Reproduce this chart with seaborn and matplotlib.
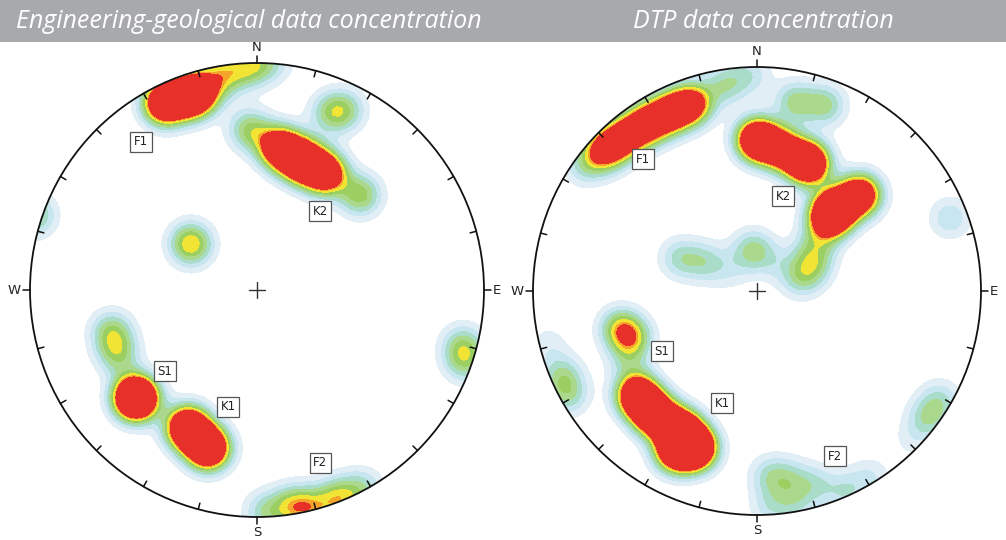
import numpy as np
import pandas as pd
import matplotlib
matplotlib.use("Agg")
import matplotlib.pyplot as plt
import seaborn as sns
from matplotlib.patches import Circle, Rectangle

# ---------------- data (pole positions in the equal-area net, unit circle) ----------------
titles = ["Engineering-geological data concentration", "DTP data concentration"]

# Engineering-geological net: pole concentrations (u = east, v = north) and weights
eg_u = [-0.405, -0.286, -0.229, -0.141, -0.031, 0.066,
        0.322, 0.388,
        -0.031, 0.101, 0.198, 0.300, 0.454,
        -0.291,
        -0.980,
        0.907, 0.916,
        -0.639, -0.612, -0.533,
        -0.304, -0.216,
        0.035, 0.154, 0.242, 0.357, 0.463]
eg_v = [0.824, 0.855, 0.890, 0.952, 0.987, 1.004,
        0.780, 0.793,
        0.705, 0.626, 0.568, 0.515, 0.419,
        0.203,
        0.330,
        -0.242, -0.317,
        -0.185, -0.286, -0.476,
        -0.608, -0.696,
        -0.978, -0.952, -0.960, -0.921, -0.881]
eg_w = [14, 14, 4, 4.8, 5, 2.5,
        3.6, 3.6,
        5, 12, 14, 12, 5.5,
        7,
        4.5,
        3.8, 3.8,
        4.8, 4.4, 19,
        15, 15,
        3.5, 5, 4.5, 5.5, 3.5]

# DTP net
dtp_u = [-0.679, -0.589, -0.491, -0.388, -0.290, -0.143, -0.031, -0.768,
         0.170, 0.304,
         0.004, 0.116, 0.228, 0.348, 0.460, 0.308, 0.259, 0.246, 0.192,
         -0.344, -0.232, -0.018, -0.121, 0.080,
         -0.612, -0.558, -0.576,
         -0.531, -0.455, -0.344, -0.277, -0.366,
         -0.871, -0.844, -0.933,
         0.058, 0.147, 0.259, 0.058, 0.170, 0.393, 0.504, 0.763, 0.817, 0.692,
         0.862]
dtp_v = [0.629, 0.688, 0.746, 0.795, 0.835, 0.920, 0.964, 0.5625,
         0.844, 0.830,
         0.674, 0.629, 0.571, 0.362, 0.429, 0.308, 0.183, 0.103, 0.058,
         0.147, 0.129, 0.183, 0.094, 0.129,
         -0.165, -0.210, -0.317,
         -0.469, -0.554, -0.621, -0.701, -0.719,
         -0.375, -0.464, -0.241,
         -0.826, -0.835, -0.862, -0.964, -0.946, -0.897, -0.835, -0.567, -0.487, -0.665,
         0.326]
dtp_w = [9, 9, 10, 10, 9.5, 3.5, 2.5, 3,
         4.2, 4.2,
         15, 10, 15, 14, 12, 6.5, 3.5, 3, 3,
         3.2, 3, 4.2, 1.5, 1.5,
         5, 5, 2.5,
         14, 14, 14, 16, 10,
         3.5, 3.5, 1.5,
         3.0, 2.4, 2.5, 2.2, 2.4, 2.6, 2.0, 3.4, 2.8, 1.2,
         2.8]

# set labels
eg_labels = ["F1", "K2", "S1", "K1", "F2"]
eg_lab_u = [-0.511, 0.278, -0.405, -0.128, 0.278]
eg_lab_v = [0.652, 0.348, -0.357, -0.515, -0.762]
dtp_labels = ["F1", "K2", "S1", "K1", "F2"]
dtp_lab_u = [-0.509, 0.116, -0.424, -0.156, 0.348]
dtp_lab_v = [0.589, 0.424, -0.268, -0.500, -0.737]

# ---------------- style ----------------
sns.set_theme(style="white")
plt.rcParams["font.family"] = ["DejaVu Sans"]

W_PX, H_PX = 1006, 540
fig = plt.figure(figsize=(W_PX / 100, H_PX / 100), dpi=100)

band_colors = ["#e2eef6", "#c8e6ef", "#aadcca", "#aad88c", "#9ccf62",
               "#f1e434", "#f4a52a", "#e8302b"]
thresholds = [1, 2, 3, 4, 5, 6, 7, 7.6]
KERNEL_SIGMA = 0.065


def isotropic_bandwidth(kde):
    """Circular smoothing kernel of fixed size (same in every direction)."""
    eye = np.eye(kde.d)
    kde._data_covariance = eye
    kde._data_inv_cov = eye
    kde._data_cho_cov = eye
    return KERNEL_SIGMA


def iso_levels(u, v, w):
    """Convert absolute density thresholds into seaborn iso-proportion levels."""
    u = np.asarray(u, float); v = np.asarray(v, float); w = np.asarray(w, float)
    g = np.linspace(-1.6, 1.6, 481)
    X, Y = np.meshgrid(g, g)
    dens = np.zeros_like(X)
    for ui, vi, wi in zip(u, v, w):
        dens += wi * np.exp(-((X - ui) ** 2 + (Y - vi) ** 2) / (2 * KERNEL_SIGMA ** 2))
    total = dens.sum()
    props = np.array([1 - dens[dens >= t].sum() / total for t in thresholds])
    props = np.maximum.accumulate(props) + np.arange(len(props)) * 1e-6
    props = np.clip(props, 0, 0.99999)
    return list(props) + [1.0]


def make_axes(cx, cy, r, lim=1.2):
    size = 2 * lim * r
    return fig.add_axes([(cx - lim * r) / W_PX, (H_PX - cy - lim * r) / H_PX,
                         size / W_PX, size / H_PX])


def draw_net(ax, u, v, w, labels, lu, lv, lim=1.2):
    df = pd.DataFrame({"u": u, "v": v, "w": w})
    sns.kdeplot(data=df, x="u", y="v", weights="w",
                fill=True, levels=iso_levels(u, v, w),
                color=band_colors[-1], colors=band_colors,
                bw_method=isotropic_bandwidth, gridsize=320, cut=3, ax=ax)
    clip = Circle((0, 0), 1, transform=ax.transData)
    for coll in ax.collections:
        coll.set_clip_path(clip)
    ax.add_patch(Circle((0, 0), 1, fill=False, ec="#111111", lw=1.3, zorder=5))
    # ticks every 15 degrees
    for az in range(0, 360, 15):
        a = np.deg2rad(az)
        sx, sy = np.sin(a), np.cos(a)
        if az % 90 == 0:
            r0, r1 = 1.0, 1.032
        else:
            r0, r1 = 0.972, 1.0
        ax.plot([r0 * sx, r1 * sx], [r0 * sy, r1 * sy], color="#111111", lw=1.1, zorder=5)
    off = 1.04
    ax.text(0, off, "N", ha="center", va="bottom", fontsize=9.5, color="#222222")
    ax.text(off, 0, "E", ha="left", va="center", fontsize=9.5, color="#222222")
    ax.text(0, -off, "S", ha="center", va="top", fontsize=9.5, color="#222222")
    ax.text(-off, 0, "W", ha="right", va="center", fontsize=9.5, color="#222222")
    c = 0.035
    ax.plot([-c, c], [0, 0], color="#333333", lw=1.0, zorder=5)
    ax.plot([0, 0], [-c, c], color="#333333", lw=1.0, zorder=5)
    for t, x, y in zip(labels, lu, lv):
        ax.text(x, y, t, ha="center", va="center", fontsize=8.5, color="#222222", zorder=6,
                bbox=dict(boxstyle="square,pad=0.3", fc="white", ec="#555555", lw=0.9))
    ax.set_xlim(-lim, lim)
    ax.set_ylim(-lim, lim)
    ax.set_axis_off()


ax1 = make_axes(257, 290, 227)
draw_net(ax1, eg_u, eg_v, eg_w, eg_labels, eg_lab_u, eg_lab_v)
ax2 = make_axes(757, 291, 224)
draw_net(ax2, dtp_u, dtp_v, dtp_w, dtp_labels, dtp_lab_u, dtp_lab_v)

bar_h = 42 / H_PX
fig.add_artist(Rectangle((0, 1 - bar_h), 1, bar_h, transform=fig.transFigure,
                         facecolor="#a7a9ac", edgecolor="none", zorder=1))
for x_px, t in zip([249, 763], titles):
    fig.text(x_px / W_PX, 1 - 22 / H_PX, t, ha="center", va="center", color="white",
             fontsize=18, style="italic", family=["Open Sans", "DejaVu Sans"], zorder=3)

fig.savefig("out.png", dpi=100)
